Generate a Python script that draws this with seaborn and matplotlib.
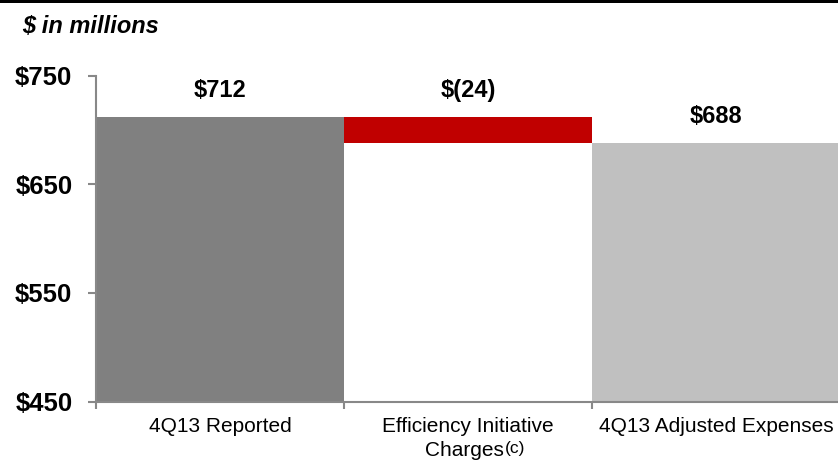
import matplotlib
matplotlib.use("Agg")
import matplotlib.pyplot as plt
import matplotlib.transforms as mtransforms
import seaborn as sns
import numpy as np
import pandas as pd
from matplotlib.patches import Rectangle

categories = ["4Q13 Reported", "Efficiency Initiative Charges", "4Q13 Adjusted Expenses"]
tick_line1 = ["4Q13 Reported", "Efficiency Initiative", "4Q13 Adjusted Expenses"]
tick_line2 = ["", "Charges", ""]
tick_notes = ["", "(c)", ""]
tops = [712, 712, 688]
bases = [np.nan, 688, np.nan]
value_labels = ["$712", "$(24)", "$688"]
bar_colors = ["#808080", "#C00000", "#C0C0C0"]
yticks = [450, 550, 650, 750]
ytick_labels = ["$450", "$550", "$650", "$750"]

sns.set_theme(style="white")
plt.rcParams["font.family"] = ["Liberation Sans", "DejaVu Sans"]

fig = plt.figure(figsize=(8.38, 4.61), dpi=100)
ax = fig.add_axes([96 / 838, 1 - 401.5 / 461, (840 - 96) / 838, (401.5 - 75.5) / 461])

df = pd.DataFrame({"cat": categories, "top": tops, "base": bases})
sns.barplot(data=df, x="cat", y="top", hue="cat", palette=bar_colors, width=1.0,
            legend=False, ax=ax, saturation=1.0, edgecolor="none", linewidth=0)
sns.barplot(data=df, x="cat", y="base", color="white", width=1.0, ax=ax,
            saturation=1.0, edgecolor="none", linewidth=0)

ax.set_ylim(450, 750)
ax.set_xlim(-0.5, 2.5)
ax.set_xlabel("")
ax.set_ylabel("")

ax.set_yticks(yticks)
ax.set_yticklabels(ytick_labels, fontsize=18.5, fontweight="bold", color="black")
ax.tick_params(axis="y", which="major", left=True, length=6, width=1.5,
               color="#888888", pad=11)

ax.set_xticks([0, 1, 2])
ax.set_xticklabels(tick_line1, fontsize=15, color="black")
ax.tick_params(axis="x", which="major", length=0, pad=11.5)
ax.set_xticks([-0.5, 0.5, 1.5, 2.5], minor=True)
ax.tick_params(axis="x", which="minor", bottom=True, length=5, width=1.5,
               color="#888888")

for s in ["top", "right"]:
    ax.spines[s].set_visible(False)
for s in ["left", "bottom"]:
    ax.spines[s].set_color("#888888")
    ax.spines[s].set_linewidth(1.5)

for i, (t, lab) in enumerate(zip(tops, value_labels)):
    ax.annotate(lab, xy=(i, t), xytext=(0, 14), textcoords="offset points",
                ha="center", va="baseline", fontsize=17, fontweight="bold",
                color="black")

# second line of the middle category label, plus its note marker
trans = mtransforms.blended_transform_factory(ax.transData, fig.transFigure)
for i, (l2, note) in enumerate(zip(tick_line2, tick_notes)):
    if l2:
        ax.text(i - 0.015, 1 - 456 / 461, l2, transform=trans, fontsize=15,
                ha="center", va="baseline", color="black")
    if note:
        ax.annotate(note, xy=(i - 0.015, 1 - 456 / 461), xycoords=trans,
                    xytext=(29, 2), textcoords="offset points",
                    fontsize=12.5, ha="left", va="baseline", color="black")

fig.text(22 / 838, 1 - 33 / 461, "$ in millions", fontsize=17,
         fontweight="bold", fontstyle="italic", ha="left", va="baseline",
         color="black")

fig.add_artist(Rectangle((0, 1 - 3.5 / 461), 1, 3.5 / 461,
                         transform=fig.transFigure, color="black", lw=0))

fig.savefig("out.png", dpi=100)
